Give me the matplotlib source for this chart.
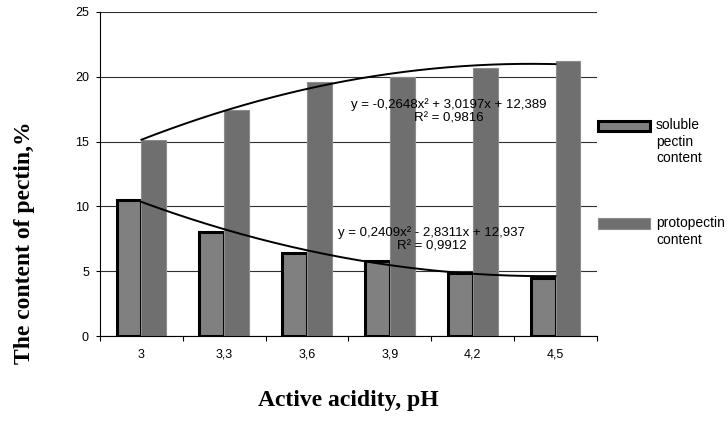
import matplotlib
matplotlib.use("Agg")
import matplotlib.pyplot as plt
import numpy as np
from matplotlib.patches import Rectangle

# Pectin content vs active acidity

ph_labels = ["3", "3,3", "3,6", "3,9", "4,2", "4,5"]
soluble = [10.5, 8.0, 6.4, 5.8, 4.9, 4.5]
protopectin = [15.1, 17.4, 19.6, 20.0, 20.7, 21.2]

# polynomial trendlines (x = 1..6), coefficients a, b, c of a*x^2 + b*x + c
soluble_trend = [0.2409, -2.8311, 12.937]
proto_trend = [-0.2648, 3.0197, 12.389]
soluble_eq = "y = 0,2409x² - 2,8311x + 12,937\nR² = 0,9912"
proto_eq = "y = -0,2648x² + 3,0197x + 12,389\nR² = 0,9816"

sans = "Liberation Sans"
serif = "Liberation Serif"

fig = plt.figure(figsize=(7.28, 4.43), dpi=100)
ax = fig.add_axes([0.1374, 0.2415, 0.6826, 0.7315])

x = np.arange(len(ph_labels))
w = 0.3

ax.bar(x - w / 2, soluble, width=w, color="#808080", edgecolor="black",
       linewidth=2.2, zorder=3)
ax.bar(x + w / 2, protopectin, width=w, color="#6f6f6f", edgecolor="#8c8c8c",
       linewidth=0.8, zorder=4)

# trendlines drawn across the category centres
t = np.linspace(1, len(ph_labels), 200)
for coef in (soluble_trend, proto_trend):
    ax.plot(t - 1, np.polyval(coef, t), color="black", lw=1.4, zorder=5)

ax.text(3.709, 17.36, proto_eq, ha="center", va="center", fontsize=9.5,
        family=sans, multialignment="center", zorder=6)
ax.text(3.504, 7.45, soluble_eq, ha="center", va="center", fontsize=9.5,
        family=sans, multialignment="center", zorder=6)

ax.set_xlim(-0.5, len(ph_labels) - 0.5)
ax.set_ylim(0, 25)
ax.set_yticks(range(0, 26, 5))
ax.set_xticks(x)
ax.set_xticklabels(ph_labels)
ax.set_xticks(np.arange(-0.5, len(ph_labels), 1), minor=True)
ax.tick_params(axis="x", which="major", length=0, pad=9, labelsize=9)
ax.tick_params(axis="x", which="minor", length=3.5, width=0.8)
ax.tick_params(axis="y", length=3, width=0.8, pad=5, labelsize=9)
for lab in ax.get_xticklabels() + ax.get_yticklabels():
    lab.set_family(sans)

ax.yaxis.grid(True, color="#303030", lw=0.8, zorder=0)
ax.set_axisbelow(True)
for s in ("top", "right"):
    ax.spines[s].set_visible(False)
for s in ("left", "bottom"):
    ax.spines[s].set_linewidth(0.8)
    ax.spines[s].set_zorder(7)

# legend on the right
fig.patches.append(Rectangle((0.822, 0.7043), 0.0715, 0.0226, transform=fig.transFigure,
                             facecolor="#808080", edgecolor="black", lw=2.2))
fig.patches.append(Rectangle((0.822, 0.483), 0.0715, 0.0248, transform=fig.transFigure,
                             facecolor="#6f6f6f", edgecolor="#8c8c8c", lw=0.8))
fig.text(0.901, 0.734, "soluble\npectin\ncontent", ha="left", va="top",
         fontsize=10, family=sans, linespacing=1.25)
fig.text(0.901, 0.512, "protopectin\ncontent", ha="left", va="top",
         fontsize=10, family=sans, linespacing=1.25)

fig.text(0.479, 0.097, "Active acidity, pH", ha="center", va="center",
         fontsize=17, fontweight="bold", family=serif)
fig.text(0.034, 0.4526, "The content of pectin,%", ha="center", va="center",
         rotation=90, fontsize=17, fontweight="bold", family=serif)

fig.savefig("out.png", dpi=100)
